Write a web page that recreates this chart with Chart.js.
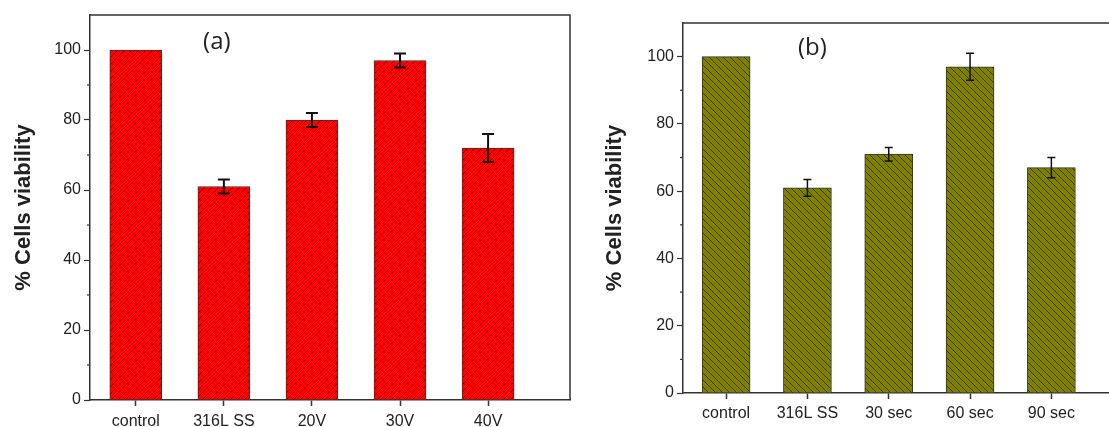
<!DOCTYPE html>
<html>
<head>
<meta charset="utf-8">
<script src="https://cdn.jsdelivr.net/npm/chart.js@4.4.1/dist/chart.umd.min.js"></script>
<style>
  html, body { margin: 0; padding: 0; background: #fff; overflow: hidden; width: 1109px; height: 427px; }
  #wrapA { position: absolute; left: 0; top: 0; width: 575px; height: 427px; }
  #wrapB { position: absolute; left: 575px; top: 0; width: 560px; height: 427px; }
</style>
</head>
<body>
<div id="wrapA"><canvas id="chartA" width="575" height="427"></canvas></div>
<div id="wrapB"><canvas id="chartB" width="560" height="427"></canvas></div>
<script>
// panel (a)
const categoriesA = ['control', '316L SS', '20V', '30V', '40V'];
const viabilityA = [100, 61, 80, 97, 72];
const errorA = [0, 2, 2, 2, 4];

// panel (b)
const categoriesB = ['control', '316L SS', '30 sec', '60 sec', '90 sec'];
const viabilityB = [100, 61, 71, 97, 67];
const errorB = [0, 2.5, 2, 4, 3];

const yMinorTicks = [10, 30, 50, 70, 90];

function hatch(bg, line, dir) {
    const size = 7;
    const c = document.createElement('canvas');
    c.width = size;
    c.height = size;
    const g = c.getContext('2d');
    g.fillStyle = bg;
    g.fillRect(0, 0, size, size);
    g.strokeStyle = line;
    g.lineWidth = 1;
    g.beginPath();
    if (dir === '/') {
        g.moveTo(-1, size + 1); g.lineTo(size + 1, -1);
        g.moveTo(-2, 2); g.lineTo(2, -2);
        g.moveTo(size - 2, size + 2); g.lineTo(size + 2, size - 2);
    } else {
        g.moveTo(-1, -1); g.lineTo(size + 1, size + 1);
        g.moveTo(-2, size - 2); g.lineTo(2, size + 2);
        g.moveTo(size - 2, -2); g.lineTo(size + 2, 2);
    }
    g.stroke();
    return g.createPattern(c, 'repeat');
}

function makeChart(id, p) {
    const extras = {
        id: 'extras',
        afterDatasetsDraw(chart) {
            const ctx = chart.ctx;
            const a = chart.chartArea;
            const x = chart.scales.x, y = chart.scales.y;
            ctx.save();
            // error bars
            ctx.strokeStyle = '#111';
            ctx.lineWidth = p.errWidth;
            p.values.forEach((v, i) => {
                const e = p.errors[i];
                if (!e) return;
                const px = x.getPixelForValue(i);
                const top = y.getPixelForValue(v + e), bot = y.getPixelForValue(v - e);
                ctx.beginPath();
                ctx.moveTo(px, top); ctx.lineTo(px, bot);
                ctx.moveTo(px - p.cap, top); ctx.lineTo(px + p.cap, top);
                ctx.moveTo(px - p.cap, bot); ctx.lineTo(px + p.cap, bot);
                ctx.stroke();
            });
            // minor ticks
            ctx.strokeStyle = '#333';
            ctx.lineWidth = 1.2;
            yMinorTicks.forEach(v => {
                const py = y.getPixelForValue(v);
                ctx.beginPath();
                ctx.moveTo(a.left - 3, py); ctx.lineTo(a.left, py);
                ctx.stroke();
            });
            // top / right frame
            ctx.lineWidth = 1.5;
            ctx.beginPath();
            ctx.moveTo(a.left, a.top); ctx.lineTo(a.right, a.top); ctx.lineTo(a.right, a.bottom);
            ctx.stroke();
            // panel tag
            ctx.fillStyle = '#222';
            ctx.font = '24px "Open Sans", sans-serif';
            ctx.textAlign = 'center';
            ctx.textBaseline = 'middle';
            ctx.fillText(p.tag, x.getPixelForValue(p.tagX), y.getPixelForValue(p.tagY));
            ctx.restore();
        }
    };

    new Chart(document.getElementById(id), {
        type: 'bar',
        data: {
            datasets: [{
                data: p.values.map((v, i) => ({x: i, y: v})),
                backgroundColor: p.fill,
                borderColor: '#333',
                borderWidth: 1,
                barThickness: p.barWidth
            }]
        },
        options: {
            responsive: false,
            animation: false,
            layout: {
                padding: {left: 0, right: p.padRight, top: p.top, bottom: 0}
            },
            plugins: {
                legend: {display: false},
                tooltip: {enabled: false}
            },
            scales: {
                x: {
                    type: 'linear',
                    min: p.xMin,
                    max: p.xMax,
                    offset: false,
                    afterFit: s => { s.height = p.xHeight; },
                    grid: {drawOnChartArea: false, offset: false, tickLength: 6, color: '#333', tickWidth: 1.5},
                    border: {color: '#333', width: 1.5},
                    ticks: {
                        stepSize: 1,
                        includeBounds: false,
                        autoSkip: false,
                        maxRotation: 0,
                        padding: p.xPad,
                        color: '#222',
                        font: {family: 'Liberation Sans, Arial, sans-serif', size: 16},
                        callback: v => p.cats[v] ?? ''
                    }
                },
                y: {
                    min: 0,
                    max: 110,
                    afterFit: s => { s.width = p.yWidth; },
                    grid: {drawOnChartArea: false, tickLength: 6, color: '#333', tickWidth: 1.2},
                    border: {color: '#333', width: 1.5},
                    ticks: {
                        stepSize: 20,
                        includeBounds: false,
                        padding: 3,
                        color: '#222',
                        font: {family: 'Liberation Sans, Arial, sans-serif', size: 16}
                    },
                    title: {
                        display: true,
                        text: '% Cells viability',
                        color: '#222',
                        padding: {top: p.titlePad, bottom: 0},
                        font: {family: 'Liberation Sans, Arial, sans-serif', size: 22, weight: 'bold'}
                    }
                }
            }
        },
        plugins: [extras]
    });
}

makeChart('chartA', {
    cats: categoriesA, values: viabilityA, errors: errorA,
    fill: hatch('#ff0000', '#9a0000', '/'),
    barWidth: 52, errWidth: 2, cap: 6,
    xMin: -0.52, xMax: 4.93,
    top: 15, xHeight: 27, yWidth: 90, padRight: 5, titlePad: 11, xPad: 6,
    tag: '(a)', tagX: 0.92, tagY: 102.3
});

makeChart('chartB', {
    cats: categoriesB, values: viabilityB, errors: errorB,
    fill: hatch('#808000', '#3d3d00', '\\'),
    barWidth: 48, errWidth: 1.5, cap: 4,
    xMin: -0.53, xMax: 4.93,
    top: 23, xHeight: 34, yWidth: 108, padRight: 8, titlePad: 27, xPad: 5,
    tag: '(b)', tagX: 1.06, tagY: 102.5
});
</script>
</body>
</html>
